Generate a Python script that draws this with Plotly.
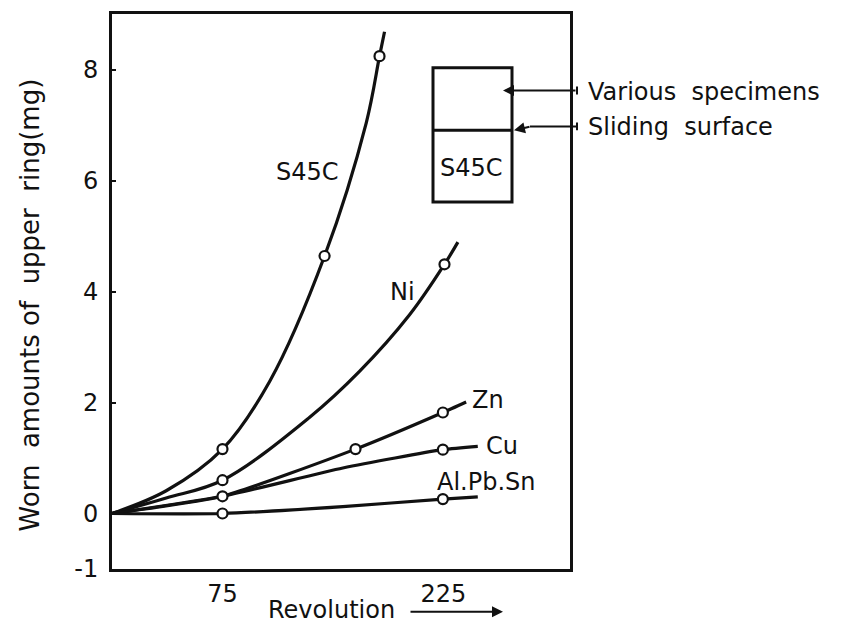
import plotly.graph_objects as go

# ---------------- data ----------------
# measured points (open circles): revolution, worn amount (mg)
s45c_pts_x = [75, 144.3, 181.6]
s45c_pts_y = [1.16, 4.64, 8.24]
ni_pts_x = [75, 225.7]
ni_pts_y = [0.60, 4.49]
zn_pts_x = [75, 165.3, 224.6]
zn_pts_y = [0.31, 1.16, 1.82]
cu_pts_x = [224.6]
cu_pts_y = [1.15]
al_pts_x = [75, 224.6]
al_pts_y = [0.0, 0.26]

# drawn curves
s45c_curve_x = [0, 36.8, 75, 107, 144.3, 172.6, 181.6, 185]
s45c_curve_y = [0, 0.41, 1.16, 2.38, 4.64, 7.04, 8.24, 8.68]
ni_curve_x = [0, 36.8, 75, 134, 168, 202, 225.7, 234.8]
ni_curve_y = [0, 0.28, 0.60, 1.73, 2.56, 3.58, 4.49, 4.89]
zn_curve_x = [0, 75, 165.3, 224.6, 240.4]
zn_curve_y = [0, 0.31, 1.16, 1.82, 2.01]
cu_curve_x = [0, 75, 156.7, 224.6, 248.3]
cu_curve_y = [0, 0.31, 0.82, 1.15, 1.21]
al_curve_x = [0, 75, 156.7, 224.6, 248.3]
al_curve_y = [0, 0.0, 0.125, 0.26, 0.30]

series_names = ["S45C", "Ni", "Zn", "Cu", "Al.Pb.Sn"]
x_tick_vals = [75, 225]
x_tick_text = ["75", "225"]
y_tick_vals = [-1, 0, 2, 4, 6, 8]
y_tick_text = ["-1", "0", "2", "4", "6", "8"]

# label anchor positions (data coords)
label_pos = {
    "S45C": (132.4, 6.15),
    "Ni": (196.9, 3.99),
    "Zn": (255.5, 2.05),
    "Cu": (264.5, 1.21),
    "Al.Pb.Sn": (254.2, 0.565),
}

# ---------------- layout geometry ----------------
W, H = 845, 625
ML, MR, MT, MB = 112, 275, 11, 56
PW, PH = W - ML - MR, H - MT - MB
X_RANGE = [0, 310.9]
Y_RANGE = [-1, 9]

def PX(px):
    return (px - ML) / PW

def PY(py):
    return (H - MB - py) / PH

FONT = "DejaVu Sans"
INK = "#111111"
FS = 24

fig = go.Figure()

curves = [
    (s45c_curve_x, s45c_curve_y, 1.0),
    (ni_curve_x, ni_curve_y, 1.0),
    (zn_curve_x, zn_curve_y, 0.5),
    (cu_curve_x, cu_curve_y, 0.6),
    (al_curve_x, al_curve_y, 0.6),
]
for (cx, cy, sm), name in zip(curves, series_names):
    fig.add_trace(go.Scatter(
        x=cx, y=cy, mode="lines", name=name, showlegend=False,
        line=dict(color=INK, width=3.2, shape="spline", smoothing=sm),
        hoverinfo="skip"))

pts = [
    (s45c_pts_x, s45c_pts_y),
    (ni_pts_x, ni_pts_y),
    (zn_pts_x, zn_pts_y),
    (cu_pts_x, cu_pts_y),
    (al_pts_x, al_pts_y),
]
for (px_, py_), name in zip(pts, series_names):
    fig.add_trace(go.Scatter(
        x=px_, y=py_, mode="markers", name=name + " data", showlegend=False,
        marker=dict(symbol="circle", size=10, color="white",
                    line=dict(color=INK, width=2.2))))

# series labels
for name in series_names:
    lx, ly = label_pos[name]
    fig.add_annotation(x=lx, y=ly, xref="x", yref="y", text=name,
                       showarrow=False, font=dict(family=FONT, size=FS, color=INK))

shapes = []
# inset specimen sketch
shapes.append(dict(type="rect", xref="paper", yref="paper",
                   x0=PX(433), x1=PX(512), y0=PY(200), y1=PY(65),
                   line=dict(color=INK, width=3)))
shapes.append(dict(type="line", xref="paper", yref="paper",
                   x0=PX(433), x1=PX(512), y0=PY(128), y1=PY(128),
                   line=dict(color=INK, width=3)))
# leader lines
shapes.append(dict(type="line", xref="paper", yref="paper",
                   x0=PX(577), x1=PX(530), y0=PY(124), y1=PY(124),
                   line=dict(color=INK, width=2)))
shapes.append(dict(type="line", xref="paper", yref="paper",
                   x0=PX(577), x1=PX(577), y0=PY(84), y1=PY(92),
                   line=dict(color=INK, width=2)))
shapes.append(dict(type="line", xref="paper", yref="paper",
                   x0=PX(577), x1=PX(577), y0=PY(120), y1=PY(128),
                   line=dict(color=INK, width=2)))
fig.update_layout(shapes=shapes)

# arrows of the sketch
fig.add_annotation(xref="paper", yref="paper", x=PX(503), y=PY(88),
                   ax=74, ay=0, text="", showarrow=True,
                   arrowhead=2, arrowsize=1.1, arrowwidth=2, arrowcolor=INK)
fig.add_annotation(xref="paper", yref="paper", x=PX(514), y=PY(128),
                   ax=17, ay=-4, text="", showarrow=True,
                   arrowhead=2, arrowsize=1.1, arrowwidth=2, arrowcolor=INK)
fig.add_annotation(xref="paper", yref="paper", x=PX(586), y=PY(89),
                   xanchor="left", yanchor="middle", showarrow=False,
                   text="Various\u00a0 specimens",
                   font=dict(family=FONT, size=FS, color=INK))
fig.add_annotation(xref="paper", yref="paper", x=PX(586), y=PY(125),
                   xanchor="left", yanchor="middle", showarrow=False,
                   text="Sliding\u00a0 surface",
                   font=dict(family=FONT, size=FS, color=INK))
fig.add_annotation(xref="paper", yref="paper", x=PX(471), y=PY(166),
                   xanchor="center", yanchor="middle", showarrow=False,
                   text="S45C", font=dict(family=FONT, size=FS, color=INK))

# axis titles
fig.add_annotation(xref="paper", yref="paper", x=PX(331), y=PY(610),
                   xanchor="center", yanchor="middle", showarrow=False,
                   text="Revolution", font=dict(family=FONT, size=FS, color=INK))
fig.add_annotation(xref="paper", yref="paper", x=PX(503), y=PY(612),
                   ax=-94, ay=0, text="", showarrow=True,
                   arrowhead=2, arrowsize=1.1, arrowwidth=2, arrowcolor=INK)
fig.add_annotation(xref="paper", yref="paper", x=PX(30), y=PY(304),
                   xanchor="center", yanchor="middle", showarrow=False,
                   textangle=-90,
                   text="Worn\u00a0 amounts of\u00a0 upper\u00a0 ring(mg)",
                   font=dict(family=FONT, size=26, color=INK))

fig.update_xaxes(range=X_RANGE, showline=True, mirror=True, linewidth=3,
                 linecolor=INK, showgrid=False, zeroline=False,
                 tickmode="array", tickvals=x_tick_vals, ticktext=x_tick_text,
                 ticks="", ticklabelstandoff=1,
                 tickfont=dict(family=FONT, size=FS, color=INK))
fig.update_yaxes(range=Y_RANGE, showline=True, mirror=True, linewidth=3,
                 linecolor=INK, showgrid=False, zeroline=False,
                 tickmode="array", tickvals=y_tick_vals, ticktext=y_tick_text,
                 ticks="inside", ticklen=4, tickwidth=2, tickcolor=INK,
                 ticklabelstandoff=6,
                 tickfont=dict(family=FONT, size=FS, color=INK))

fig.update_layout(width=W, height=H, autosize=False,
                  margin=dict(l=ML, r=MR, t=MT, b=MB),
                  paper_bgcolor="white", plot_bgcolor="white",
                  showlegend=False)

fig.write_html("out.html")
